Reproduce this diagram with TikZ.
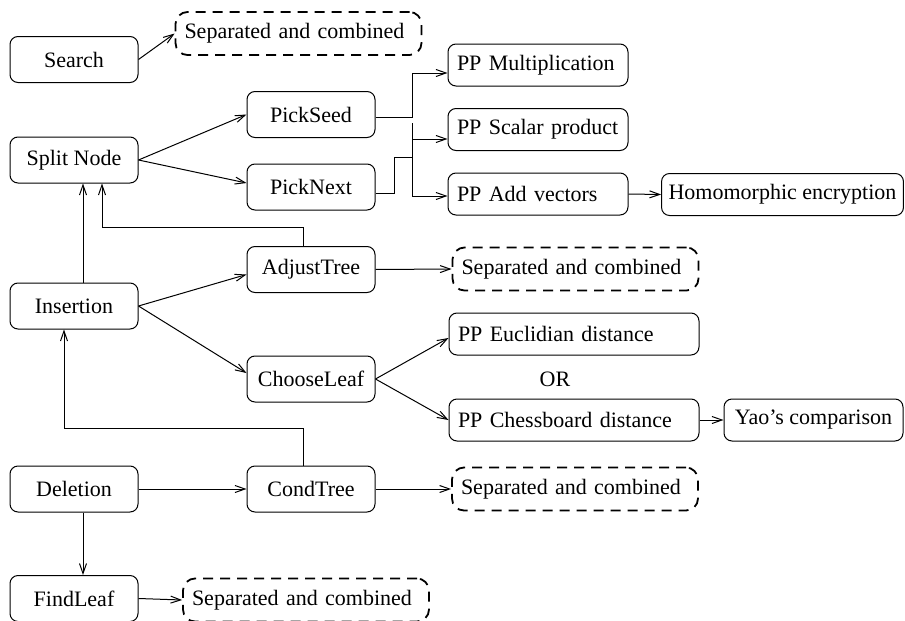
\documentclass[tikz,border=0pt]{standalone}
\usepackage{fontspec}
\setmainfont{Liberation Serif}
\newfontfamily\diagfont{Liberation Serif}
\usepackage{tikz}
\usetikzlibrary{arrows.meta}
\usetikzlibrary{calc}

\tikzset{
  box/.style={draw, rounded corners=4pt, inner ysep=0pt, font=\diagfont\fontsize{11}{13}\selectfont},
  opbox/.style={box, minimum width=64pt, minimum height=23pt},
  ppbox/.style={box, minimum height=21pt, text width=81pt, align=left, inner xsep=4.5pt},
  widebox/.style={box, minimum height=21pt, text width=116pt, align=left, inner xsep=4.5pt},
  sepbox/.style={draw, line width=0.9pt, dash pattern=on 5pt off 3.5pt, rounded corners=6pt, inner ysep=0pt,
    minimum height=21.5pt, text width=114pt, align=left, inner xsep=4.5pt,
    font=\diagfont\fontsize{11}{13}\selectfont},
}

\begin{document}
\begin{tikzpicture}[x=0.5pt, y=-0.5pt, line width=0.5pt,
  >={Straight Barb[length=5pt, width=3.5pt]}]
\useasboundingbox (0,0) rectangle (905,621);

% left column
\node[opbox] (search) at (74,59.5) {Search};
\node[opbox] (split) at (74,160) {Split Node};
\node[opbox] (insertion) at (74,306) {Insertion};
\node[opbox] (deletion) at (74,489) {Deletion};
\node[opbox] (findleaf) at (74,598.5) {FindLeaf};

% middle column
\node[opbox] (pickseed) at (311,114.5) {PickSeed};
\node[opbox] (picknext) at (311,187) {PickNext};
\node[opbox] (adjust) at (311,269.5) {AdjustTree};
\node[opbox] (choose) at (311,379) {ChooseLeaf};
\node[opbox] (cond) at (311,489) {CondTree};

% privacy preserving parts
\node[sepbox] (sepA) at (298.5,33.5) {Separated and combined};
\node[ppbox] (mult) at (538,65) {PP Multiplication};
\node[ppbox] (scalar) at (538,129.5) {PP Scalar product};
\node[ppbox] (addvec) at (538,194) {PP Add vectors};
\node[box, minimum height=21pt, inner xsep=3.5pt] (homo) at (782.5,194.5) {Homomorphic encryption};
\node[sepbox] (sepB) at (575.5,269) {Separated and combined};
\node[widebox] (eucl) at (574,334) {PP Euclidian distance};
\node[font=\diagfont\fontsize{11}{13}\selectfont] (orlabel) at (555,379) {OR};
\node[widebox] (chess) at (574,420) {PP Chessboard distance};
\node[box, minimum height=21pt, minimum width=89.5pt] (yao) at (813.5,420) {Yao’s comparison};
\node[sepbox] (sepC) at (575,489) {Separated and combined};
\node[sepbox] (sepD) at (306,600) {Separated and combined};

\coordinate (jtop) at (412,123);
\coordinate (jmid) at (412,157);

% connectors
\draw[->] (search.east) -- (sepA.west);
\draw[->] (split.east) -- (pickseed.west);
\draw[->] (split.east) -- ($(picknext.west)+(0,-4)$);
\draw[->] ($(pickseed.east)+(0,2.5)$) -- ++(37,0) |- ($(mult.west)+(0,8)$);
\draw[->] (jtop) |- ($(scalar.west)+(0,9.5)$);
\draw[->] (jtop) |- ($(addvec.west)+(0,2)$);
\draw ($(picknext.east)+(0,6)$) -- ++(19,0) |- (jmid);
\draw[->] (addvec.east) -- (homo.west);

\draw[->] ($(insertion.north)+(9,0)$) -- ($(split.south)+(9,0)$);
\draw[->] ($(adjust.north)+(-8,0)$) -- ++(0,-19) -| ($(split.south)+(28,0)$);
\draw[->] (insertion.east) -- ($(adjust.west)+(0,5)$);
\draw[->] (insertion.east) -- ($(choose.west)+(0,-6)$);
\draw[->] (adjust.east) -- (sepB.west);
\draw[->] (choose.east) -- ($(eucl.west)+(0,4)$);
\draw[->] (choose.east) -- (chess.west);
\draw[->] (chess.east) -- (yao.west);

\draw[->] ($(cond.north)+(-8,0)$) -- ++(0,-37) -| ($(insertion.south)+(-10,0)$);
\draw[->] (deletion.east) -- (cond.west);
\draw[->] (cond.east) -- (sepC.west);
\draw[->] ($(deletion.south)+(9,0)$) -- ($(findleaf.north)+(9,0)$);
\draw[->] (findleaf.east) -- (sepD.west);
\end{tikzpicture}
\end{document}
